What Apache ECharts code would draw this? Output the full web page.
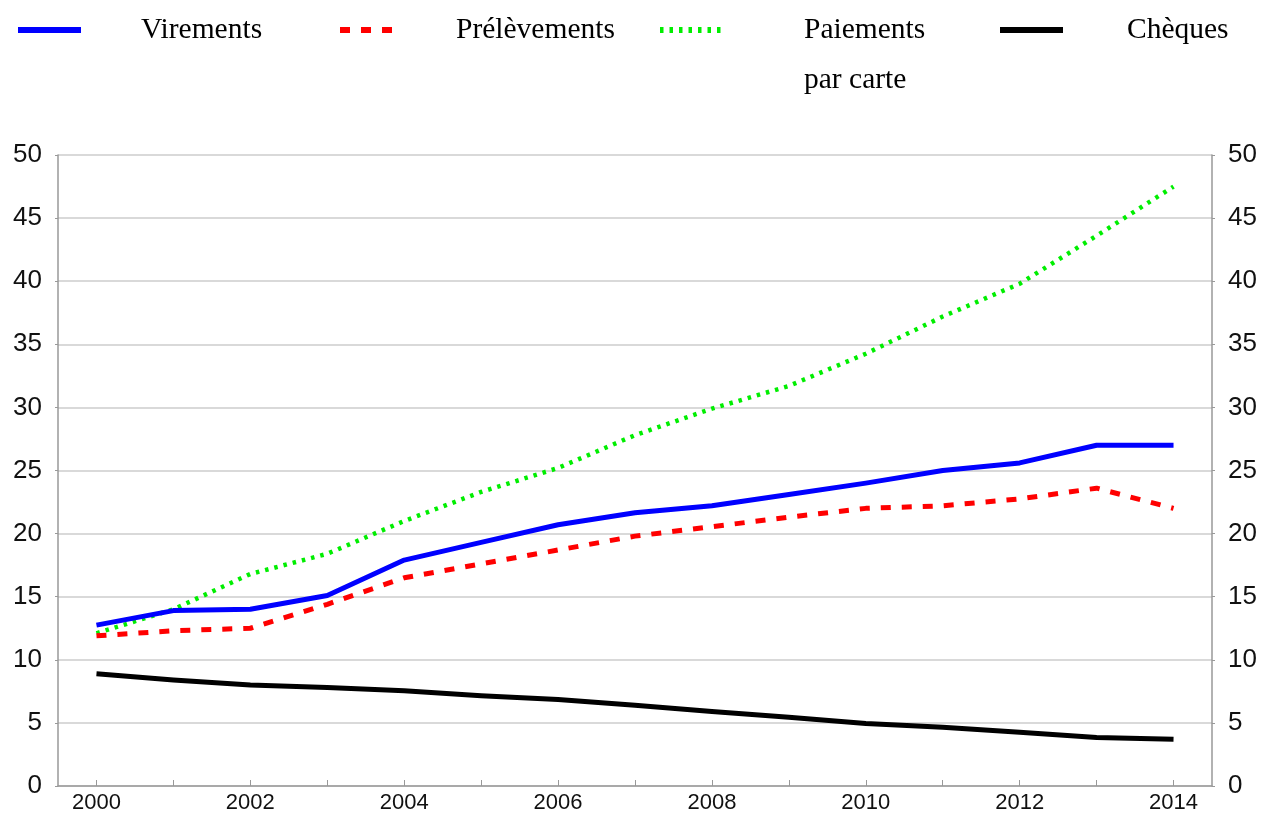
<!DOCTYPE html>
<html><head><meta charset="utf-8">
<script src="https://cdn.jsdelivr.net/npm/echarts@6/dist/echarts.min.js"></script>
<style>html,body{margin:0;padding:0;background:#fff}#c{width:1263px;height:814px}</style>
</head><body><div id="c"></div>
<script>
const years = ['2000','2001','2002','2003','2004','2005','2006','2007','2008','2009','2010','2011','2012','2013','2014'];
const virements = [12.75, 13.9, 14.0, 15.1, 17.9, 19.3, 20.7, 21.65, 22.2, 23.1, 24.0, 25.0, 25.6, 27.0, 27.0];
const prelevements = [11.9, 12.3, 12.5, 14.4, 16.5, 17.6, 18.7, 19.8, 20.55, 21.3, 22.0, 22.2, 22.75, 23.6, 22.0];
const cartes = [12.1, 14.0, 16.8, 18.4, 21.0, 23.3, 25.2, 27.8, 29.9, 31.7, 34.25, 37.2, 39.8, 43.6, 47.5];
const cheques = [8.9, 8.4, 8.0, 7.8, 7.55, 7.15, 6.85, 6.4, 5.9, 5.45, 4.95, 4.65, 4.25, 3.85, 3.7];
const names = ['Virements', 'Prélèvements', 'Paiements par carte', 'Chèques'];
const yTicks = [0, 5, 10, 15, 20, 25, 30, 35, 40, 45, 50];

const chart = echarts.init(document.getElementById('c'), null, {renderer: 'canvas'});
function leg(name, left, top, padLeft, extra) {
  return Object.assign({
    data: [name], left: left, top: top, itemWidth: 63, itemHeight: 14, selectedMode: false,
    itemStyle: {opacity: 0}, lineStyle: {width: 6},
    textStyle: {fontFamily: 'Liberation Serif', fontSize: 29.5, color: '#000', lineHeight: 50, padding: [0,0,0,padLeft]}
  }, extra || {});
}
const yAxisCommon = {
  type: 'value', min: yTicks[0], max: yTicks[yTicks.length-1], interval: 5,
  axisLine: {show: true, lineStyle: {color: '#999', width: 1.5}},
  axisTick: {show: true, length: 3, lineStyle: {color: '#999'}},
  axisLabel: {fontFamily: 'Liberation Sans', fontSize: 26, color: '#111', margin: 16}
};
chart.setOption({
  animation: false,
  legend: [
    leg(names[0], 10, 0, 55),
    leg(names[1], 332, 0, 48),
    leg(names[2], 652, -50, 76, {formatter: '\nPaiements\npar carte'}),
    leg(names[3], 992, 0, 59)
  ],
  grid: {left: 58, right: 51, top: 155, bottom: 24, containLabel: false},
  xAxis: {
    type: 'category', data: years, boundaryGap: true,
    axisLine: {lineStyle: {color: '#999', width: 1.5}},
    axisTick: {show: true, inside: true, alignWithLabel: true, interval: 0, length: 6, lineStyle: {color: '#999'}},
    axisLabel: {interval: 1, fontFamily: 'Liberation Sans', fontSize: 22, color: '#111', margin: 6},
    splitLine: {show: false}
  },
  yAxis: [
    Object.assign({}, yAxisCommon, {position: 'left', splitLine: {show: true, lineStyle: {color: '#ccc', width: 1.5}}}),
    Object.assign({}, yAxisCommon, {position: 'right', splitLine: {show: false}})
  ],
  series: [
    {name: names[0], type: 'line', data: virements, symbol: 'none', lineStyle: {color: '#0000ff', width: 5, join: 'round'}, itemStyle: {color: '#0000ff'}, z: 4},
    {name: names[1], type: 'line', data: prelevements, symbol: 'none', lineStyle: {color: '#ff0000', width: 5, type: [10, 11], cap: 'butt'}, itemStyle: {color: '#ff0000'}, z: 3},
    {name: names[2], type: 'line', data: cartes, symbol: 'none', lineStyle: {color: '#00ee00', width: 4.5, type: [3.5, 6], cap: 'butt'}, itemStyle: {color: '#00ee00'}, z: 2},
    {name: names[3], type: 'line', data: cheques, symbol: 'none', lineStyle: {color: '#000', width: 5, join: 'round'}, itemStyle: {color: '#000'}, z: 5}
  ]
});
</script></body></html>
